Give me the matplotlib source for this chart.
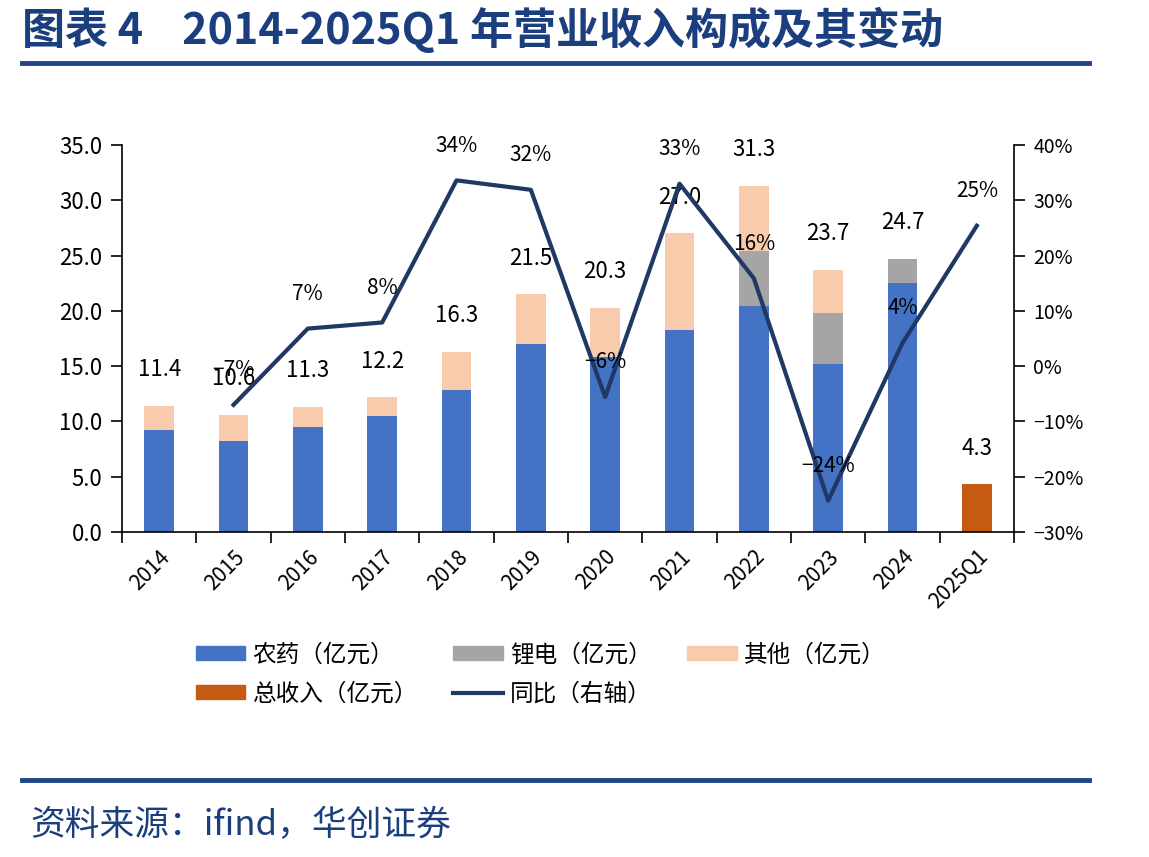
import matplotlib
matplotlib.use('Agg')
import matplotlib.pyplot as plt
from matplotlib.lines import Line2D
from matplotlib.patches import Patch
import numpy as np

plt.rcParams['font.family'] = ['Noto Sans CJK SC', 'DejaVu Sans']
plt.rcParams['axes.unicode_minus'] = True

# 数据
years = ['2014', '2015', '2016', '2017', '2018', '2019', '2020',
         '2021', '2022', '2023', '2024', '2025Q1']
pesticide = [9.2, 8.2, 9.5, 10.5, 12.8, 17.0, 15.8, 18.3, 20.4, 15.2, 22.5, 0]
lithium = [0, 0, 0, 0, 0, 0, 0, 0, 5.0, 4.6, 2.2, 0]
other = [2.2, 2.4, 1.8, 1.7, 3.5, 4.5, 4.5, 8.7, 5.9, 3.9, 0, 0]
total_q = [0, 0, 0, 0, 0, 0, 0, 0, 0, 0, 0, 4.3]
totals = [11.4, 10.6, 11.3, 12.2, 16.3, 21.5, 20.3, 27.0, 31.3, 23.7, 24.7, 4.3]
yoy = [np.nan, -7.0, 6.8, 7.9, 33.6, 31.9, -5.6, 33.0, 15.9, -24.3, 4.2, 25.4]

c_blue = '#4472C4'
c_grey = '#A5A5A5'
c_peach = '#F8CBAD'
c_orange = '#C55A11'
c_line = '#1F3864'
c_title = '#1B3F7E'

fig = plt.figure(figsize=(11.49, 8.57), dpi=100)
ax = fig.add_axes([0.1062, 0.3792, 0.7763, 0.4516])
x = np.arange(len(years))
w = 0.4

b1 = np.array(pesticide)
b2 = b1 + np.array(lithium)
ax.bar(x, pesticide, w, color=c_blue, zorder=2)
ax.bar(x, lithium, w, bottom=b1, color=c_grey, zorder=2)
ax.bar(x, other, w, bottom=b2, color=c_peach, zorder=2)
ax.bar(x, total_q, w, color=c_orange, zorder=2)

for i, t in enumerate(totals):
    ax.annotate(f'{t:.1f}', (x[i], t), xytext=(0, 26), textcoords='offset points',
                ha='center', va='center', fontsize=16, color='black', zorder=5)

ax.set_xlim(-0.5, len(years) - 0.5)
ax.set_ylim(0, 35)
ax.set_yticks(np.arange(0, 35.1, 5))
ax.set_yticklabels([f'{v:.1f}' for v in np.arange(0, 35.1, 5)], fontsize=16)
ax.set_xticks(x)
ax.set_xticklabels(years, rotation=45, ha='right', rotation_mode='anchor', fontsize=15)
ax.set_xticks(np.arange(-0.5, len(years), 1), minor=True)
ax.tick_params(axis='x', which='major', length=0, pad=10)
ax.tick_params(axis='x', which='minor', length=8, width=1.2, direction='out')
ax.tick_params(axis='y', length=8, width=1.2, direction='out', pad=6)
ax.spines['top'].set_visible(False)
ax.spines['right'].set_visible(False)
for s in ['left', 'bottom']:
    ax.spines[s].set_linewidth(1.2)

ax2 = ax.twinx()
ax2.plot(x, yoy, color=c_line, lw=3, zorder=4)
ax2.set_ylim(-30, 40)
ax2.set_yticks(np.arange(-30, 41, 10))
ax2.set_yticklabels([f'{v}%'.replace('-', '\u2212') for v in range(-30, 41, 10)], fontsize=14)
ax2.tick_params(axis='y', length=8, width=1.2, direction='out', pad=6)
ax2.spines['top'].set_visible(False)
ax2.spines['left'].set_visible(False)
ax2.spines['bottom'].set_visible(False)
ax2.spines['right'].set_linewidth(1.2)
for i, v in enumerate(yoy):
    if np.isnan(v):
        continue
    ax2.annotate(f'{v:.0f}%'.replace('-', '\u2212'), (x[i], v), xytext=(0, 25),
                 textcoords='offset points', ha='center', va='center',
                 fontsize=15, color='black', zorder=6)

# 图例按行排列：列优先填充，所以重排顺序
handles = [Patch(color=c_blue), Patch(color=c_orange), Patch(color=c_grey),
           Line2D([0], [0], color=c_line, lw=3), Patch(color=c_peach)]
labels = ['农药（亿元）', '总收入（亿元）', '锂电（亿元）', '同比（右轴）', '其他（亿元）']
fig.legend(handles, labels, loc='center left', bbox_to_anchor=(0.152, 0.213), ncol=3,
           frameon=False, fontsize=17, handlelength=2.1, handleheight=0.55,
           columnspacing=1.5, handletextpad=0.3, labelspacing=0.7)

# 标题与来源
fig.text(0.019, 0.965, '图表 4    2014-2025Q1 年营业收入构成及其变动', fontsize=31,
         fontweight='bold', color=c_title, va='center', ha='left')
fig.add_artist(Line2D([0.019, 0.948], [0.927, 0.927], color='#1F4488', lw=3.5))
fig.add_artist(Line2D([0.019, 0.948], [0.090, 0.090], color='#1F4488', lw=3.5))
fig.text(0.026, 0.037, '资料来源：ifind，华创证券', fontsize=25, style='italic',
         color=c_title, va='center', ha='left')

fig.savefig('out.png', dpi=100)
